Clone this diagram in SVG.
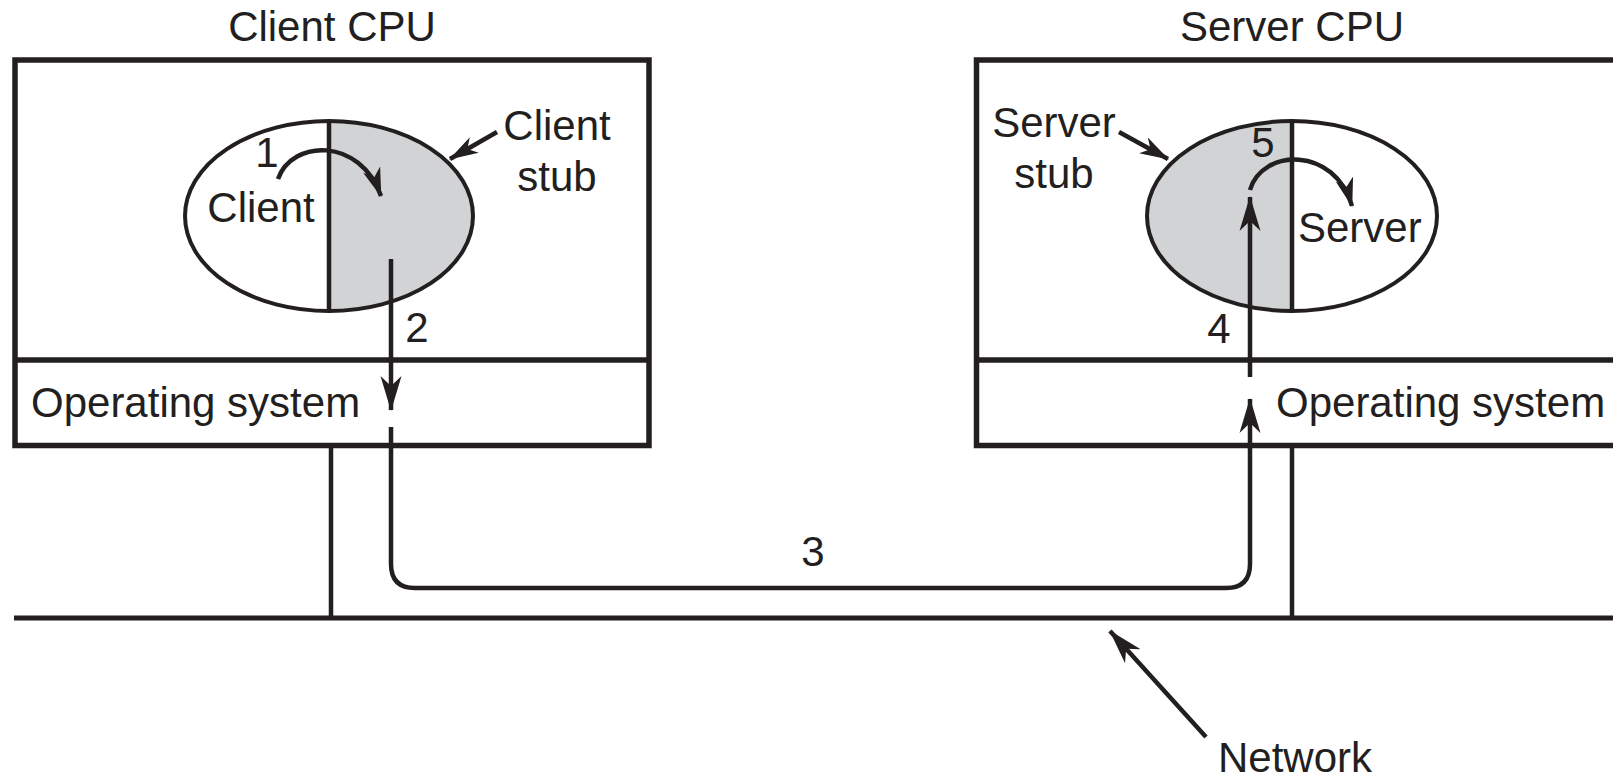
<svg xmlns="http://www.w3.org/2000/svg" width="1613" height="781" viewBox="0 0 1613 781">
<style>
.t{font-family:"Liberation Sans",Arial,Helvetica,sans-serif;font-size:42px;fill:#231f20}
.box{fill:#fff;stroke:#231f20;stroke-width:5.5}
.ln{fill:none;stroke:#231f20;stroke-width:4.5}
.thin{fill:none;stroke:#231f20;stroke-width:4}
.gray{fill:#d1d3d4;stroke:none}
.net{fill:none;stroke:#231f20;stroke-width:5}
</style>
<defs>
<marker id="big" markerUnits="userSpaceOnUse" markerWidth="35" markerHeight="22" viewBox="0 0 35 22" refX="34" refY="11" orient="auto">
<path d="M0,0.5 L35,11 L0,21.5 L10,11 Z" fill="#231f20"/>
</marker>
<marker id="ah" markerUnits="userSpaceOnUse" markerWidth="29" markerHeight="20" viewBox="0 0 29 20" refX="28" refY="10" orient="auto">
<path d="M0,1 L29,10 L0,19 L8,10 Z" fill="#231f20"/>
</marker>
</defs>
<rect width="1613" height="781" fill="#fff"/>

<g id="network">
<line class="net" x1="14" y1="618" x2="1613" y2="618"/>
<line class="ln" x1="331" y1="445" x2="331" y2="618"/>
<line class="ln" x1="1292" y1="445" x2="1292" y2="618"/>
<text class="t" x="1295" y="772" text-anchor="middle">Network</text>
</g>

<g id="client-cpu">
<text class="t" x="332" y="41" text-anchor="middle">Client CPU</text>
<rect class="box" x="15" y="60" width="634" height="385.5"/>
<line class="box" x1="15" y1="360" x2="649" y2="360"/>
<text class="t" x="31" y="417">Operating system</text>
</g>

<g id="server-cpu">
<text class="t" x="1292" y="41" text-anchor="middle">Server CPU</text>
<rect class="box" x="976.5" y="60" width="640" height="385.5"/>
<line class="box" x1="976.5" y1="360" x2="1616" y2="360"/>
<text class="t" x="1276" y="417">Operating system</text>
</g>

<g id="client-process">
<ellipse cx="329" cy="216" rx="144" ry="95" fill="#fff"/>
<path class="gray" d="M329,121 A144,95 0 0 1 329,311 Z"/>
<ellipse class="thin" cx="329" cy="216" rx="144" ry="95"/>
<line class="ln" x1="329" y1="121" x2="329" y2="311"/>
<text class="t" x="261" y="222" text-anchor="middle">Client</text>
</g>

<g id="client-stub-label">
<text class="t" x="557" y="140" text-anchor="middle">Client</text>
<text class="t" x="557" y="191" text-anchor="middle">stub</text>
</g>

<g id="server-process">
<ellipse cx="1292" cy="216" rx="145" ry="95" fill="#fff"/>
<path class="gray" d="M1292,121 A145,95 0 0 0 1292,311 Z"/>
<ellipse class="thin" cx="1292" cy="216" rx="145" ry="95"/>
<line class="ln" x1="1292" y1="121" x2="1292" y2="311"/>
<text class="t" x="1298" y="242">Server</text>
</g>

<g id="server-stub-label">
<text class="t" x="1054" y="137" text-anchor="middle">Server</text>
<text class="t" x="1054" y="188" text-anchor="middle">stub</text>
</g>

<g id="connectors">
<path class="ln" d="M497,132 L450,159" marker-end="url(#ah)"/>
<path class="ln" d="M1119,132 L1168,159" marker-end="url(#ah)"/>
<path class="ln" d="M278,179 C292,139 360,137 381,196" marker-end="url(#ah)"/>
<path class="ln" d="M1250,190 C1262,148 1335,146 1352,206" marker-end="url(#ah)"/>
<path class="ln" d="M391,259 L391,410" marker-end="url(#big)"/>
<path class="ln" d="M391,427 L391,564 Q391,588 415,588 L1226,588 Q1250,588 1250,564 L1250,399" marker-end="url(#big)"/>
<path class="ln" d="M1250,377 L1250,197" marker-end="url(#big)"/>
<path class="ln" d="M1206,737 L1110,631" marker-end="url(#big)"/>
</g>

<g id="labels">
<text class="t" x="267" y="167" text-anchor="middle">1</text>
<text class="t" x="417" y="342" text-anchor="middle">2</text>
<text class="t" x="813" y="566" text-anchor="middle">3</text>
<text class="t" x="1219" y="343" text-anchor="middle">4</text>
<text class="t" x="1263" y="157" text-anchor="middle">5</text>
</g>
</svg>
